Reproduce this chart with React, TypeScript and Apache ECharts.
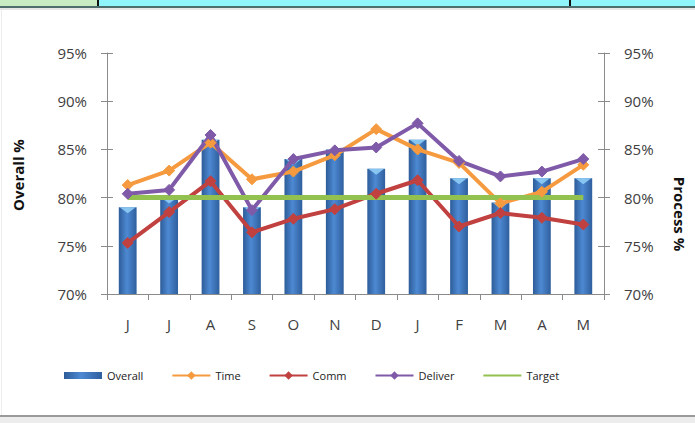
import React, { useEffect, useRef } from "react";
import * as echarts from "echarts";

const categories = ["J", "J", "A", "S", "O", "N", "D", "J", "F", "M", "A", "M"];
const overall = [79, 80, 86, 79, 84, 85, 83, 86, 82, 79.5, 82, 82];
const time = [81.3, 82.8, 85.7, 81.9, 82.7, 84.4, 87.1, 85.0, 83.6, 79.4, 80.6, 83.4];
const comm = [75.3, 78.5, 81.7, 76.4, 77.8, 78.8, 80.4, 81.8, 77.0, 78.4, 77.9, 77.2];
const deliver = [80.4, 80.8, 86.5, 78.7, 84.0, 84.9, 85.2, 87.7, 83.8, 82.2, 82.7, 84.0];
const target = [80, 80, 80, 80, 80, 80, 80, 80, 80, 80, 80, 80];
const axisMin = 70;
const axisMax = 95;
const axisStep = 5;

const labelFont = "'Open Sans', 'DejaVu Sans', sans-serif";
const legendFont = "'Liberation Sans Narrow', 'Open Sans', sans-serif";
const axisColor = "#8a8a8a";

function valueAxis(position: "left" | "right", withLabels: boolean, inside: boolean) {
  return {
    type: "value",
    position,
    min: axisMin,
    max: axisMax,
    interval: axisStep,
    axisLine: { show: withLabels, lineStyle: { color: axisColor, width: 1 } },
    axisTick: { show: true, inside, length: 6, lineStyle: { color: axisColor } },
    axisLabel: {
      show: withLabels,
      formatter: "{value}%",
      fontFamily: labelFont,
      fontSize: 15,
      color: "#404040",
      margin: 20,
    },
    splitLine: { show: false },
  };
}

function lineSeries(name: string, data: number[], color: string, withSymbol: boolean, width = 4) {
  return {
    name,
    type: "line",
    yAxisIndex: 1,
    data,
    symbol: withSymbol ? "diamond" : "none",
    symbolSize: 11,
    showSymbol: withSymbol,
    lineStyle: { color, width },
    itemStyle: { color, borderColor: color, borderWidth: 1 },
    z: 3,
  };
}

export default function App() {
  const ref = useRef<HTMLDivElement>(null);
  useEffect(() => {
    if (!ref.current) return;
    const chart = echarts.init(ref.current, undefined, { renderer: "svg" });
    chart.setOption({
      animation: false,
      backgroundColor: "#ffffff",
      grid: { left: 107, right: 91, top: 53, bottom: 129, containLabel: false },
      legend: {
        left: 59,
        top: 365,
        itemGap: 28,
        itemWidth: 38,
        itemHeight: 7,
        textStyle: { fontFamily: legendFont, fontSize: 11, color: "#222" },
        data: [
          { name: "Overall", icon: "rect" },
          "Time",
          "Comm",
          "Deliver",
          { name: "Target", itemStyle: { opacity: 0 } },
        ],
      },
      xAxis: {
        type: "category",
        data: categories,
        axisLine: { lineStyle: { color: axisColor, width: 1 } },
        axisTick: { show: true, length: 6, lineStyle: { color: axisColor } },
        axisLabel: { fontFamily: labelFont, fontSize: 15, color: "#404040", margin: 22 },
      },
      yAxis: [
        valueAxis("left", true, false),
        valueAxis("right", true, false),
        valueAxis("left", false, true),
        valueAxis("right", false, true),
      ],
      graphic: [
        { type: "rect", shape: { x: 0, y: 0, width: 97, height: 7 }, style: { fill: "#c9ebc4" } },
        { type: "rect", shape: { x: 99, y: 0, width: 470, height: 7 }, style: { fill: "#8ff5fa" } },
        { type: "rect", shape: { x: 571, y: 0, width: 124, height: 7 }, style: { fill: "#8ff5fa" } },
        { type: "rect", shape: { x: 97, y: 0, width: 2, height: 7 }, style: { fill: "#111" } },
        { type: "rect", shape: { x: 569, y: 0, width: 2, height: 7 }, style: { fill: "#111" } },
        { type: "rect", shape: { x: 0, y: 6, width: 695, height: 2 }, style: { fill: "#4e6d6d" } },
        { type: "rect", shape: { x: 0, y: 8, width: 695, height: 2 }, style: { fill: "#e6e6e6" } },
        { type: "rect", shape: { x: 0, y: 415, width: 695, height: 2 }, style: { fill: "#9a9a9a" } },
        { type: "rect", shape: { x: 0, y: 417, width: 695, height: 6 }, style: { fill: "#ececec" } },
        { type: "rect", shape: { x: 1, y: 10, width: 1, height: 405 }, style: { fill: "#ededed" } },
        {
          type: "text",
          x: 18,
          y: 175,
          rotation: Math.PI / 2,
          style: {
            text: "Overall %",
            fontFamily: labelFont,
            fontSize: 15,
            fontWeight: "bold",
            fill: "#111",
            align: "center",
            verticalAlign: "middle",
          },
        },
        {
          type: "text",
          x: 680,
          y: 214,
          rotation: -Math.PI / 2,
          style: {
            text: "Process %",
            fontFamily: labelFont,
            fontSize: 15,
            fontWeight: "bold",
            fill: "#111",
            align: "center",
            verticalAlign: "middle",
          },
        },
      ],
      series: [
        {
          name: "Overall",
          type: "bar",
          yAxisIndex: 0,
          data: overall,
          barWidth: "43%",
          itemStyle: {
            color: new echarts.graphic.LinearGradient(0, 0, 1, 0, [
              { offset: 0, color: "#2d5c99" },
              { offset: 0.45, color: "#4d89d2" },
              { offset: 1, color: "#2f5f9e" },
            ]),
          },
          z: 2,
        },
        {
          name: "cap",
          type: "scatter",
          yAxisIndex: 0,
          data: overall,
          symbol: "path://M0,0 L16,0 L8,6 Z",
          symbolSize: [16, 6],
          symbolOffset: [0, 3],
          itemStyle: { color: "#8fcdf6", opacity: 0.9 },
          silent: true,
          z: 2,
        },
        lineSeries("Time", time, "#f59a3e", true),
        lineSeries("Comm", comm, "#c0413f", true),
        lineSeries("Deliver", deliver, "#7f5aa8", true),
        lineSeries("Target", target, "#93c150", false, 5),
      ],
    });
    return () => chart.dispose();
  }, []);
  return (
    <div
      ref={ref}
      style={{ position: "fixed", left: 0, top: 0, width: 695, height: 423 }}
    />
  );
}
